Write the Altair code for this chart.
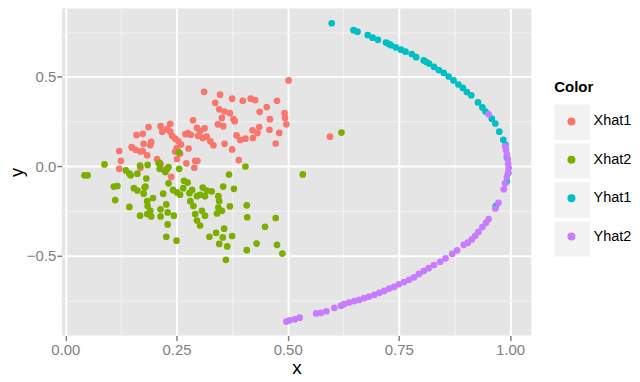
import altair as alt
import pandas as pd

# ---- data ----
xhat1_x = [0.502,0.312,0.348,0.375,0.399,0.417,0.427,0.476,0.337,0.453,0.437,0.346,0.358,0.370,0.493,0.494,0.497,0.46,
           0.352,0.378,0.381,0.287,0.343,0.355,0.187,0.214,0.236,0.229,0.218,0.236,0.436,0.421,0.432,0.459,0.481,0.296,
           0.313,0.303,0.276,0.27,0.282,0.16,0.174,0.24,0.247,0.254,0.26,0.298,0.309,0.318,0.326,0.333,0.385,0.393,0.405,
           0.422,0.473,0.193,0.176,0.191,0.358,0.149,0.158,0.169,0.121,0.184,0.174,0.277,0.375,0.251,0.247,0.258,0.251,
           0.125,0.206,0.39,0.272,0.292,0.297,0.29,0.121,0.221,0.214,0.169,0.238,0.595,0.15]
xhat1_y = [0.48,0.416,0.40,0.378,0.366,0.378,0.37,0.366,0.355,0.331,0.304,0.318,0.306,0.297,0.297,0.27,0.234,0.263,
           0.27,0.263,0.252,0.257,0.234,0.224,0.219,0.224,0.237,0.207,0.193,0.193,0.219,0.201,0.185,0.204,0.186,0.214,
           0.212,0.197,0.185,0.179,0.176,0.174,0.181,0.17,0.154,0.141,0.121,0.17,0.158,0.165,0.139,0.117,0.172,0.147,0.154,
           0.158,0.127,0.136,0.125,0.117,0.125,0.107,0.092,0.082,0.085,0.061,0.085,0.099,0.094,0.103,0.082,0.071,0.04,
           0.03,0.04,0.034,0.016,0.03,0.03,-0.009,-0.015,-0.02,0.012,-0.009,-0.06,0.165,0.103]

xhat2_x = [0.043,0.05,0.088,0.109,0.117,0.112,0.136,0.144,0.162,0.168,0.185,0.182,0.154,0.162,0.18,0.176,0.144,0.184,
           0.185,0.191,0.197,0.168,0.184,0.193,0.212,0.229,0.232,0.225,0.256,0.232,0.22,0.242,0.251,0.258,0.267,0.275,
           0.265,0.214,0.214,0.227,0.23,0.244,0.23,0.227,0.25,0.285,0.279,0.281,0.288,0.292,0.296,0.303,0.307,0.314,
           0.309,0.318,0.329,0.303,0.314,0.296,0.344,0.346,0.344,0.352,0.341,0.355,0.368,0.379,0.37,0.357,0.339,0.324,
           0.354,0.375,0.346,0.364,0.361,0.405,0.408,0.409,0.449,0.473,0.43,0.408,0.476,0.488,0.534,0.621,0.255,0.212,
           0.147,0.21,0.178]
xhat2_y = [-0.051,-0.051,0.01,-0.114,-0.111,-0.19,-0.024,-0.042,-0.042,0.003,0.007,-0.069,-0.123,-0.136,-0.114,-0.154,
           -0.228,-0.196,-0.223,-0.25,-0.178,-0.277,-0.268,-0.281,-0.015,-0.015,-0.005,-0.033,-0.015,-0.096,-0.154,-0.133,
           -0.147,-0.16,-0.082,-0.092,-0.123,-0.241,-0.281,-0.214,-0.259,-0.277,-0.326,-0.395,-0.417,-0.133,-0.151,-0.196,
           -0.223,-0.268,-0.304,-0.332,-0.25,-0.277,-0.12,-0.136,-0.141,-0.16,-0.168,-0.168,-0.168,-0.196,-0.232,-0.25,
           -0.265,-0.114,-0.047,-0.127,-0.225,-0.35,-0.373,-0.395,-0.399,-0.391,-0.435,-0.449,-0.524,-0.002,-0.219,-0.286,
           -0.339,-0.29,-0.433,-0.47,-0.44,-0.489,-0.046,0.188,0.077,0.018,-0.051,0.016,-0.12]

yhat1_x = [0.599,0.648,0.657,0.68,0.691,0.703,0.721,0.727,0.732,0.743,0.755,0.765,0.779,0.789,0.806,0.812,0.818,0.829,
           0.84,0.851,0.862,0.873,0.884,0.894,0.903,0.913,0.928,0.938,0.945,0.959,0.967,0.976,0.985,0.99,0.993,0.996,
           0.993,0.968]
yhat1_y = [0.80,0.761,0.753,0.734,0.719,0.707,0.692,0.685,0.677,0.665,0.652,0.641,0.628,0.61,0.592,0.583,0.574,0.556,
           0.538,0.523,0.502,0.48,0.457,0.438,0.415,0.397,0.357,0.329,0.306,0.266,0.239,0.193,0.148,0.12,0.05,-0.04,
           -0.085,-0.223]

yhat2_x = [0.952,0.989,0.991,0.993,0.995,0.996,0.997,0.996,0.993,0.989,0.986,0.974,0.967,0.952,0.946,0.938,0.929,0.922,
           0.914,0.905,0.896,0.881,0.87,0.855,0.843,0.829,0.817,0.806,0.795,0.784,0.773,0.762,0.75,0.739,0.728,0.717,
           0.706,0.695,0.683,0.672,0.661,0.65,0.638,0.627,0.62,0.605,0.587,0.575,0.564,0.527,0.516,0.504,0.497]
yhat2_y = [0.29,0.112,0.09,0.065,0.04,0.015,-0.01,-0.035,-0.06,-0.096,-0.129,-0.205,-0.237,-0.296,-0.317,-0.341,-0.368,
           -0.39,-0.41,-0.428,-0.44,-0.471,-0.491,-0.516,-0.535,-0.553,-0.571,-0.587,-0.603,-0.622,-0.636,-0.649,-0.661,
           -0.676,-0.685,-0.698,-0.709,-0.72,-0.73,-0.739,-0.748,-0.755,-0.763,-0.772,-0.781,-0.793,-0.812,-0.821,-0.824,
           -0.848,-0.857,-0.863,-0.87]

categories = ["Xhat1", "Xhat2", "Yhat1", "Yhat2"]
palette = ["#F8766D", "#7CAE00", "#00BFC4", "#C77CFF"]
x_major = [0.0, 0.25, 0.5, 0.75, 1.0]
x_minor = [0.125, 0.375, 0.625, 0.875]
y_major = [-0.5, 0.0, 0.5]
y_minor = [-0.75, -0.25, 0.25, 0.75]

frames = []
for name, xs, ys in [("Xhat1", xhat1_x, xhat1_y), ("Xhat2", xhat2_x, xhat2_y),
                     ("Yhat1", yhat1_x, yhat1_y), ("Yhat2", yhat2_x, yhat2_y)]:
    frames.append(pd.DataFrame({"x": xs, "y": ys, "Color": name}))
df = pd.concat(frames, ignore_index=True)
# separate key field (distinct domain) so the grey key boxes form their own legend
df["Key"] = df["Color"] + " key"
key_domain = [c + " key" for c in categories]

FONT = "Liberation Sans"
KEY_BG = "#F2F2F2"
xscale = alt.Scale(domain=[-0.008, 1.048], nice=False, zero=False)
yscale = alt.Scale(domain=[-0.948, 0.882], nice=False, zero=False)

X0 = 62  # approx plot origin x in page
minor = alt.Chart(df).mark_point(filled=True, opacity=0, size=1, color=KEY_BG).encode(
    x=alt.X("x:Q", scale=xscale, axis=alt.Axis(orient="top", values=x_minor, grid=True, gridColor="#F2F2F2",
                                               gridWidth=1, labels=False, ticks=False, domain=False, title=None)),
    y=alt.Y("y:Q", scale=yscale, axis=alt.Axis(orient="right", values=y_minor, grid=True, gridColor="#F2F2F2",
                                               gridWidth=1, labels=False, ticks=False, domain=False, title=None)),
    shape=alt.Shape("Key:N", scale=alt.Scale(domain=key_domain, range=["square"] * 4),
                    legend=alt.Legend(title=None, orient="none", legendX=556 - X0, legendY=104 - 8,
                                      symbolSize=1260, symbolOpacity=1, symbolFillColor=KEY_BG,
                                      symbolStrokeColor=KEY_BG, symbolStrokeWidth=0,
                                      rowPadding=3, labelExpr="''", padding=0, zindex=1)),
)

main = alt.Chart(df).mark_circle(size=45, opacity=1).encode(
    x=alt.X("x:Q", scale=xscale, title="x",
            axis=alt.Axis(orient="bottom", values=x_major, format=".2f", grid=True, gridColor="#FFFFFF", gridWidth=2,
                          domain=False, tickColor="#7F7F7F", tickSize=5, tickWidth=1.5, labelColor="#7F7F7F",
                          labelFontSize=15, labelFont=FONT, labelPadding=2, titleFont=FONT, titleFontSize=19,
                          titleFontWeight="normal", titleColor="#000000", titlePadding=1)),
    y=alt.Y("y:Q", scale=yscale, title="y",
            axis=alt.Axis(orient="left", values=y_major, format=".1f", grid=True, gridColor="#FFFFFF", gridWidth=2,
                          domain=False, tickColor="#7F7F7F", tickSize=5, tickWidth=1.5, labelColor="#7F7F7F",
                          labelFontSize=15, labelFont=FONT, labelPadding=1, titleFont=FONT, titleFontSize=18,
                          titleFontWeight="normal", titleColor="#000000", titlePadding=0)),
    color=alt.Color("Color:N", scale=alt.Scale(domain=categories, range=palette),
                    legend=alt.Legend(title="Color", orient="none", legendX=556 - X0, legendY=80 - 8,
                                      symbolType="circle", symbolSize=64, symbolOpacity=1, symbolStrokeWidth=0,
                                      symbolOffset=10, labelOffset=15, rowPadding=23.5, titlePadding=19,
                                      titleFont=FONT, titleFontSize=15, titleFontWeight="bold", titleColor="#000000",
                                      labelFont=FONT, labelFontSize=14.5, labelColor="#000000", padding=0, zindex=2)),
)

chart = alt.layer(minor, main).resolve_axis(x="independent", y="independent").properties(
    width=533 - X0, height=328, padding={"left": 0, "top": 0, "right": 0, "bottom": 0}
).configure_view(fill="#E5E5E5", stroke=None)

chart.save("out.html", embed_options={"renderer": "svg", "actions": False})
